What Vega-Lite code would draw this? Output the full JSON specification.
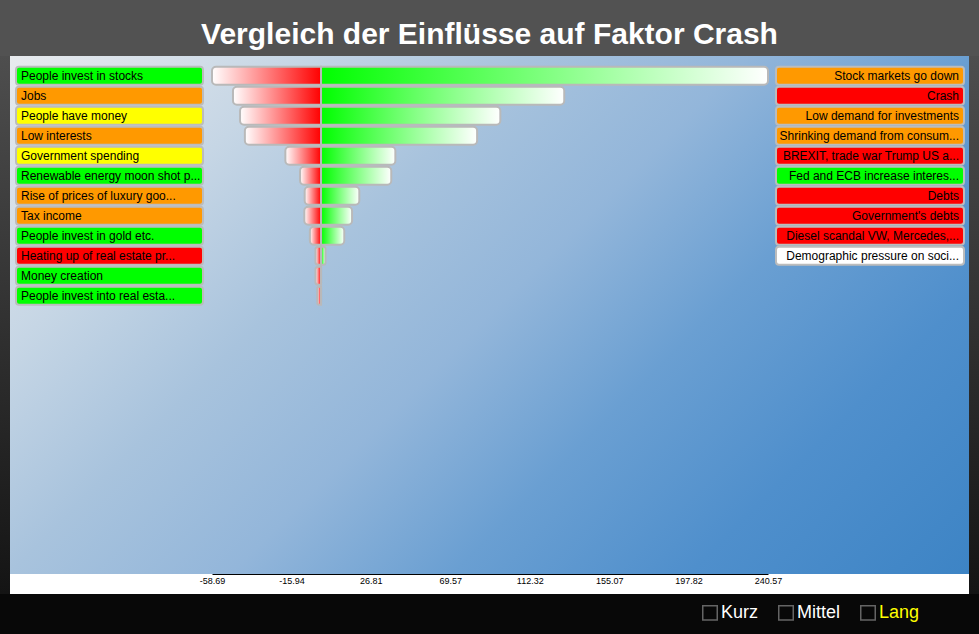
{
  "$schema": "https://vega.github.io/schema/vega-lite/v6.json",
  "background": "#525252",
  "padding": {"left": 0, "right": 0, "top": 20, "bottom": 0},
  "autosize": {"type": "pad"},
  "title": {"text": "Vergleich der Einflüsse auf Faktor Crash", "color": "#ffffff", "font": "Liberation Sans", "fontSize": 30, "fontWeight": "bold", "anchor": "middle", "offset": 6},
  "config": {"view": {"stroke": null}, "font": "Liberation Sans"},
  "datasets": {
    "bars": [
      {"rank": 1, "label": "People invest in stocks", "color": "green", "side": "cause", "neg": -58.69, "pos": 240.57},
      {"rank": 2, "label": "Jobs", "color": "orange", "side": "cause", "neg": -47.4, "pos": 130.9},
      {"rank": 3, "label": "People have money", "color": "yellow", "side": "cause", "neg": -43.6, "pos": 96.5},
      {"rank": 4, "label": "Low interests", "color": "orange", "side": "cause", "neg": -41.0, "pos": 84.0},
      {"rank": 5, "label": "Government spending", "color": "yellow", "side": "cause", "neg": -19.2, "pos": 40.0},
      {"rank": 6, "label": "Renewable energy moon shot p...", "color": "green", "side": "cause", "neg": -11.3, "pos": 37.8},
      {"rank": 7, "label": "Rise of prices of luxury goo...", "color": "orange", "side": "cause", "neg": -8.8, "pos": 20.6},
      {"rank": 8, "label": "Tax income", "color": "orange", "side": "cause", "neg": -9.0, "pos": 16.7},
      {"rank": 9, "label": "People invest in gold etc.", "color": "green", "side": "cause", "neg": -6.0, "pos": 12.5},
      {"rank": 10, "label": "Heating up of real estate pr...", "color": "red", "side": "cause", "neg": -3.0, "pos": 2.4},
      {"rank": 11, "label": "Money creation", "color": "green", "side": "cause", "neg": -3.0, "pos": 0},
      {"rank": 12, "label": "People invest into real esta...", "color": "green", "side": "cause", "neg": -2.0, "pos": 0}
    ],
    "effects": [
      {"rank": 1, "label": "Stock markets go down", "color": "orange", "side": "effect"},
      {"rank": 2, "label": "Crash", "color": "red", "side": "effect"},
      {"rank": 3, "label": "Low demand for investments", "color": "orange", "side": "effect"},
      {"rank": 4, "label": "Shrinking demand from consum...", "color": "orange", "side": "effect"},
      {"rank": 5, "label": "BREXIT, trade war Trump US a...", "color": "red", "side": "effect"},
      {"rank": 6, "label": "Fed and ECB increase interes...", "color": "green", "side": "effect"},
      {"rank": 7, "label": "Debts", "color": "red", "side": "effect"},
      {"rank": 8, "label": "Government's debts", "color": "red", "side": "effect"},
      {"rank": 9, "label": "Diesel scandal VW, Mercedes,...", "color": "red", "side": "effect"},
      {"rank": 10, "label": "Demographic pressure on soci...", "color": "white", "side": "effect"}
    ],
    "modes": [
      {"item": "Kurz"},
      {"item": "Mittel"},
      {"item": "Lang"}
    ]
  },
  "resolve": {"scale": {"color": "independent"}, "legend": {"color": "independent"}},
  "spacing": 0,
  "vconcat": [
    {
      "spacing": 0,
      "hconcat": [
        {
          "width": 10, "height": 538,
          "data": {"values": []},
          "mark": "rect",
          "encoding": {},
          "view": {"stroke": null, "fill": {"gradient": "linear", "x1": 0, "y1": 0, "x2": 0, "y2": 1, "stops": [{"offset": 0, "color": "#4e4e4e"}, {"offset": 1, "color": "#141414"}]}}
        },
        {
          "spacing": 0,
          "vconcat": [
            {
              "width": 959, "height": 518,
              "view": {"stroke": null, "fill": {"gradient": "linear", "x1": 0, "y1": 0, "x2": 1.1923, "y2": 0.644, "stops": [
                {"offset": 0, "color": "#e8ebee"},
                {"offset": 0.2, "color": "#c6d6e5"},
                {"offset": 0.35, "color": "#a8c3dd"},
                {"offset": 0.5, "color": "#93b6da"},
                {"offset": 0.65, "color": "#6a9fd2"},
                {"offset": 0.81, "color": "#4f8fcc"},
                {"offset": 1, "color": "#3d84c5"}
              ]}},
              "resolve": {"scale": {"x": "independent"}, "axis": {"x": "independent"}},
              "layer": [
                {
                  "data": {"name": "bars"},
                  "layer": [
                    {
                      "mark": {"type": "rect", "cornerRadius": 3, "stroke": "#bcbcbc", "strokeWidth": 2},
                      "encoding": {
                        "y": {"field": "rank", "type": "ordinal", "axis": null, "scale": {"domain": [1,2,3,4,5,6,7,8,9,10,11,12], "range": [9.7, 249.7], "paddingInner": 0.1, "paddingOuter": 0.05}},
                        "x": {"field": "side", "type": "nominal", "axis": null, "scale": {"range": [6, 193], "paddingInner": 0, "paddingOuter": 0}},
                        "color": {"field": "color", "type": "nominal", "legend": null, "scale": {"domain": ["green", "orange", "yellow", "red", "white"], "range": ["#00ff00", "#ff9900", "#ffff00", "#ff0000", "#ffffff"]}}
                      }
                    },
                    {
                      "mark": {"type": "text", "align": "left", "baseline": "middle", "dx": 5, "fontSize": 12, "color": "#000000", "font": "Liberation Sans"},
                      "encoding": {
                        "y": {"field": "rank", "type": "ordinal", "axis": null},
                        "x": {"field": "side", "type": "nominal", "axis": null, "bandPosition": 0},
                        "text": {"field": "label"}
                      }
                    }
                  ]
                },
                {
                  "data": {"name": "bars"},
                  "layer": [
                    {
                      "mark": {"type": "bar", "cornerRadiusTopLeft": 4, "cornerRadiusBottomLeft": 4, "stroke": "#b9b9b9", "strokeWidth": 2, "fill": {"gradient": "linear", "x1": 0, "y1": 0, "x2": 1, "y2": 0, "stops": [{"offset": 0, "color": "#ffffff"}, {"offset": 1, "color": "#ff0000"}]}},
                      "encoding": {
                        "y": {"field": "rank", "type": "ordinal", "axis": null},
                        "x": {"field": "neg", "type": "quantitative", "axis": null, "stack": null, "scale": {"domain": [-58.69, 240.57], "range": [202, 758], "nice": false}}
                      }
                    },
                    {
                      "mark": {"type": "bar", "cornerRadiusTopRight": 4, "cornerRadiusBottomRight": 4, "stroke": "#b9b9b9", "strokeWidth": 2, "fill": {"gradient": "linear", "x1": 0, "y1": 0, "x2": 1, "y2": 0, "stops": [{"offset": 0, "color": "#00ff00"}, {"offset": 1, "color": "#ffffff"}]}},
                      "encoding": {
                        "y": {"field": "rank", "type": "ordinal", "axis": null},
                        "x": {"field": "pos", "type": "quantitative", "axis": null, "stack": null}
                      }
                    }
                  ]
                },
                {
                  "data": {"name": "effects"},
                  "layer": [
                    {
                      "mark": {"type": "rect", "cornerRadius": 3, "stroke": "#bcbcbc", "strokeWidth": 2},
                      "encoding": {
                        "y": {"field": "rank", "type": "ordinal", "axis": null},
                        "x": {"field": "side", "type": "nominal", "axis": null, "scale": {"range": [766, 954], "paddingInner": 0, "paddingOuter": 0}},
                        "color": {"field": "color", "type": "nominal", "legend": null}
                      }
                    },
                    {
                      "mark": {"type": "text", "align": "right", "baseline": "middle", "dx": -5, "fontSize": 12, "color": "#000000", "font": "Liberation Sans"},
                      "encoding": {
                        "y": {"field": "rank", "type": "ordinal", "axis": null},
                        "x": {"field": "side", "type": "nominal", "axis": null, "bandPosition": 1},
                        "text": {"field": "label"}
                      }
                    }
                  ]
                }
              ]
            },
            {
              "width": 959, "height": 20,
              "view": {"stroke": null, "fill": "#ffffff"},
              "data": {"name": "bars"},
              "mark": {"type": "point", "opacity": 0},
              "encoding": {
                "x": {"field": "pos", "type": "quantitative",
                  "scale": {"domain": [-58.69, 240.57], "range": [202, 758], "nice": false},
                  "axis": {"orient": "bottom", "offset": -20, "values": [-58.69, -15.94, 26.81, 69.57, 112.32, 155.07, 197.82, 240.57], "labelExpr": "'' + datum.value", "ticks": false, "grid": false, "domainColor": "#000000", "domainWidth": 1, "labelFontSize": 9, "labelColor": "#000000", "labelPadding": 2, "labelFont": "Liberation Sans", "title": null, "labelFlush": false, "labelOverlap": false}
                }
              }
            }
          ]
        },
        {
          "width": 10, "height": 538,
          "data": {"values": []},
          "mark": "rect",
          "encoding": {},
          "view": {"stroke": null, "fill": {"gradient": "linear", "x1": 0, "y1": 0, "x2": 0, "y2": 1, "stops": [{"offset": 0, "color": "#4e4e4e"}, {"offset": 1, "color": "#141414"}]}}
        }
      ]
    },
    {
      "width": 979, "height": 40,
      "view": {"stroke": null, "fill": "#080808"},
      "data": {"name": "modes"},
      "mark": {"type": "point", "shape": "square", "filled": false, "size": 0, "strokeWidth": 1.5},
      "encoding": {
        "color": {"field": "item", "type": "nominal",
          "scale": {"domain": ["Kurz", "Mittel", "Lang"], "range": ["#8c8c8c", "#8c8c8c", "#8c8c8c"]},
          "legend": {"orient": "none", "legendX": 701, "legendY": 9.5, "direction": "horizontal", "title": null, "padding": 0,
            "symbolType": "square", "symbolSize": 210, "symbolStrokeWidth": 1.5,
            "labelFontSize": 18, "labelFont": "Liberation Sans", "labelOffset": 2, "columnPadding": 16,
            "labelColor": {"expr": "datum.label === 'Lang' ? '#ffff00' : '#ffffff'"}}
        }
      }
    }
  ]
}
